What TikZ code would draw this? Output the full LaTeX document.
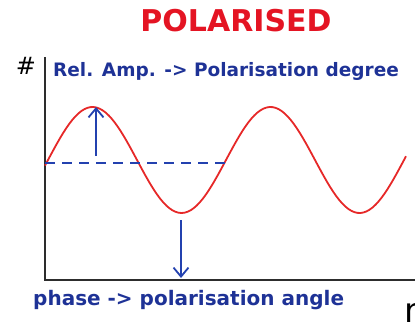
\documentclass[tikz,border=0pt]{standalone}
\usepackage{xcolor}
\usepackage{fontspec}
\setmainfont{DejaVu Sans}
\usepackage{tikz}
\usetikzlibrary{arrows.meta, positioning}

\definecolor{polred}{RGB}{228,20,35}
\definecolor{wavered}{RGB}{230,40,40}
\definecolor{polblue}{RGB}{30,50,150}
\definecolor{arrblue}{RGB}{35,65,175}
\definecolor{axisgray}{RGB}{45,45,45}

\begin{document}
\begin{tikzpicture}[
    x=1pt, y=-1pt,
    >={Straight Barb[length=9pt, width=15pt]},
    axis/.style={line width=2.4pt, draw=axisgray},
    wave/.style={line width=1.8pt, draw=wavered},
    marker/.style={line width=1.8pt, draw=arrblue},
    bluetext/.style={text=polblue, inner sep=0pt}
]
\useasboundingbox (0,0) rectangle (415,326);

% Title
\node[font=\bfseries\fontsize{30}{34}\selectfont, text=polred, inner sep=0pt] (title) at (236,21) {POLARISED};

% Axes
\coordinate (ytop) at (45,57);
\coordinate (origin) at (45,280);
\coordinate (xend) at (416,280);
\draw[axis] (ytop) -- (origin) -- (xend);
\node[font=\fontsize{24}{27}\selectfont, inner sep=0pt] (hash) at (26,66) {\#};
\node[font=\fontsize{34}{38}\selectfont, inner sep=0pt, anchor=base west] (nlabel) at (404,322) {n};

% Labels
\node[bluetext, font=\bfseries\fontsize{18.5}{21}\selectfont, anchor=west] (relamp) at (53,71) {Rel. Amp. -> Polarisation degree};
\node[bluetext, font=\bfseries\fontsize{20}{23}\selectfont, anchor=west] (phase) at (33,300) {phase -> polarisation angle};

% Signal
\draw[wave] plot[domain=45:406, samples=120] (\x, {160 - 53*sin((\x-48)/178*360)});

% Mean level
\coordinate (meanl) at (45,163);
\coordinate (meanr) at (225,163);
\draw[marker, dash pattern=on 10pt off 7pt] (meanl) -- (meanr);

% Amplitude and phase markers
\coordinate (ampfoot) at (96,156);
\coordinate (peak) at (96,107);
\draw[marker, ->] (ampfoot) -- (peak);
\coordinate (trough) at (181,220);
\coordinate (axisfoot) at (181,278);
\draw[marker, ->] (trough) -- (axisfoot);

\end{tikzpicture}
\end{document}
